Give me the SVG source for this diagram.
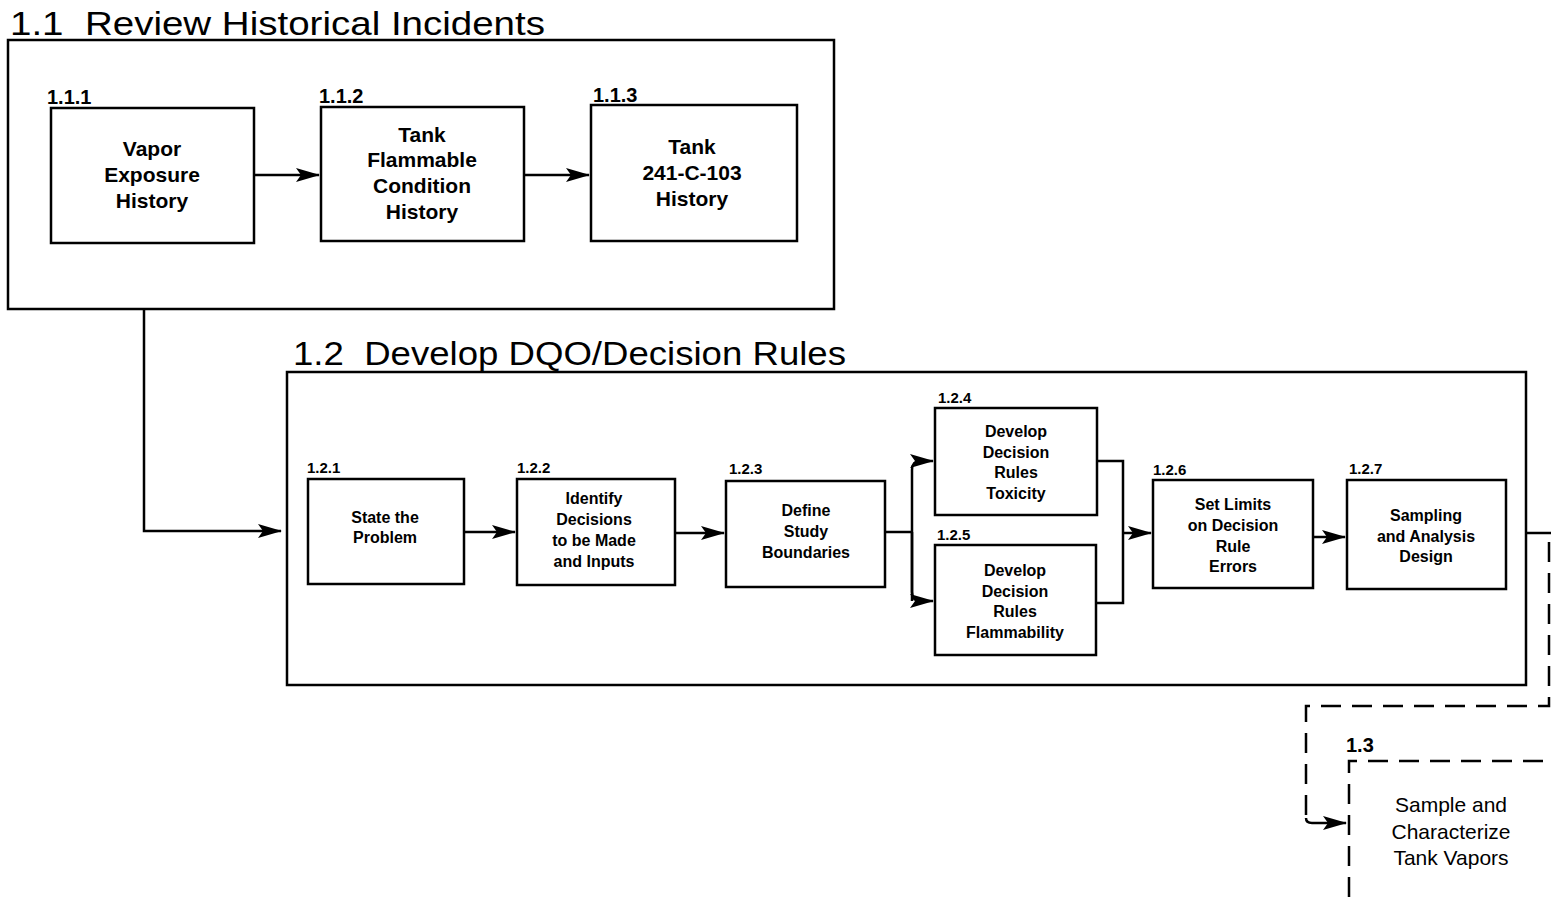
<svg xmlns="http://www.w3.org/2000/svg" width="1551" height="897" viewBox="0 0 1551 897">
<style>
.bg{fill:#fff}
.frame{fill:none;stroke:#000;stroke-width:2.5}
.box{fill:#fff;stroke:#000;stroke-width:2.5}
.dash{fill:none;stroke:#000;stroke-width:2.5;stroke-dasharray:20 11}
.title{font-family:"Liberation Sans",Arial,sans-serif;font-size:33px;fill:#000}
.num1{font-family:"Liberation Sans",Arial,sans-serif;font-size:20px;font-weight:bold;fill:#000}
.num2{font-family:"Liberation Sans",Arial,sans-serif;font-size:15px;font-weight:bold;fill:#000}
.t1{font-family:"Liberation Sans",Arial,sans-serif;font-size:21px;font-weight:bold;fill:#000;text-anchor:middle}
.t2{font-family:"Liberation Sans",Arial,sans-serif;font-size:16px;font-weight:bold;fill:#000;text-anchor:middle}
.t3{font-family:"Liberation Sans",Arial,sans-serif;font-size:21px;fill:#000;text-anchor:middle}
.line{fill:none;stroke:#000;stroke-width:2.5}
</style>
<defs>
<marker id="arr" viewBox="0 0 24 14" refX="23" refY="7" markerWidth="24" markerHeight="14" markerUnits="userSpaceOnUse" orient="auto">
<path d="M0,0 L24,7 L0,14 L5,7 Z" fill="#000"/>
</marker>
</defs>
<rect class="bg" x="0" y="0" width="1551" height="897"/>

<g id="group-1-1">
<text class="title" x="10" y="35" textLength="535" lengthAdjust="spacingAndGlyphs">1.1&#160; Review Historical Incidents</text>
<rect class="frame" x="8" y="40" width="826" height="269"/>
</g>

<g id="node-1-1-1">
<text class="num1" x="47" y="104">1.1.1</text>
<rect class="box" x="51" y="108" width="203" height="135"/>
<text class="t1" x="152" y="156">Vapor</text>
<text class="t1" x="152" y="182">Exposure</text>
<text class="t1" x="152" y="208">History</text>
</g>

<g id="node-1-1-2">
<text class="num1" x="319" y="103">1.1.2</text>
<rect class="box" x="321" y="107" width="203" height="134"/>
<text class="t1" x="422" y="142">Tank</text>
<text class="t1" x="422" y="167">Flammable</text>
<text class="t1" x="422" y="193">Condition</text>
<text class="t1" x="422" y="219">History</text>
</g>

<g id="node-1-1-3">
<text class="num1" x="593" y="102">1.1.3</text>
<rect class="box" x="591" y="105" width="206" height="136"/>
<text class="t1" x="692" y="154">Tank</text>
<text class="t1" x="692" y="180">241-C-103</text>
<text class="t1" x="692" y="206">History</text>
</g>

<g id="group-1-2">
<text class="title" x="293" y="365" textLength="553" lengthAdjust="spacingAndGlyphs">1.2&#160; Develop DQO/Decision Rules</text>
<rect class="frame" x="287" y="372" width="1239" height="313"/>
</g>

<g id="node-1-2-1">
<text class="num2" x="307" y="473">1.2.1</text>
<rect class="box" x="308" y="479" width="156" height="105"/>
<text class="t2" x="385" y="523">State the</text>
<text class="t2" x="385" y="543">Problem</text>
</g>

<g id="node-1-2-2">
<text class="num2" x="517" y="473">1.2.2</text>
<rect class="box" x="517" y="479" width="158" height="106"/>
<text class="t2" x="594" y="504">Identify</text>
<text class="t2" x="594" y="525">Decisions</text>
<text class="t2" x="594" y="546">to be Made</text>
<text class="t2" x="594" y="567">and Inputs</text>
</g>

<g id="node-1-2-3">
<text class="num2" x="729" y="474">1.2.3</text>
<rect class="box" x="726" y="481" width="159" height="106"/>
<text class="t2" x="806" y="516">Define</text>
<text class="t2" x="806" y="537">Study</text>
<text class="t2" x="806" y="558">Boundaries</text>
</g>

<g id="node-1-2-4">
<text class="num2" x="938" y="403">1.2.4</text>
<rect class="box" x="935" y="408" width="162" height="107"/>
<text class="t2" x="1016" y="437">Develop</text>
<text class="t2" x="1016" y="458">Decision</text>
<text class="t2" x="1016" y="478">Rules</text>
<text class="t2" x="1016" y="499">Toxicity</text>
</g>

<g id="node-1-2-5">
<text class="num2" x="937" y="540">1.2.5</text>
<rect class="box" x="935" y="545" width="161" height="110"/>
<text class="t2" x="1015" y="576">Develop</text>
<text class="t2" x="1015" y="597">Decision</text>
<text class="t2" x="1015" y="617">Rules</text>
<text class="t2" x="1015" y="638">Flammability</text>
</g>

<g id="node-1-2-6">
<text class="num2" x="1153" y="475">1.2.6</text>
<rect class="box" x="1153" y="480" width="160" height="108"/>
<text class="t2" x="1233" y="510">Set Limits</text>
<text class="t2" x="1233" y="531">on Decision</text>
<text class="t2" x="1233" y="552">Rule</text>
<text class="t2" x="1233" y="572">Errors</text>
</g>

<g id="node-1-2-7">
<text class="num2" x="1349" y="474">1.2.7</text>
<rect class="box" x="1347" y="480" width="159" height="109"/>
<text class="t2" x="1426" y="521">Sampling</text>
<text class="t2" x="1426" y="542">and Analysis</text>
<text class="t2" x="1426" y="562">Design</text>
</g>

<g id="node-1-3">
<text class="num1" x="1346" y="752">1.3</text>
<path class="dash" d="M1349,897 V761 H1560"/>
<text class="t3" x="1451" y="812">Sample and</text>
<text class="t3" x="1451" y="839">Characterize</text>
<text class="t3" x="1451" y="865">Tank Vapors</text>
</g>

<g id="connectors">
<path class="line" d="M254,175 H319" marker-end="url(#arr)"/>
<path class="line" d="M524,175 H589" marker-end="url(#arr)"/>
<path class="line" d="M144,309 V531 H281" marker-end="url(#arr)"/>
<path class="line" d="M464,532 H515" marker-end="url(#arr)"/>
<path class="line" d="M675,533 H724" marker-end="url(#arr)"/>
<path class="line" d="M885,532 H912"/>
<path class="line" d="M912,601 V470 Q912,461 921,461 H933" marker-end="url(#arr)"/>
<path class="line" d="M912,532 V592 Q912,601 921,601 H933" marker-end="url(#arr)"/>
<path class="line" d="M1097,461 H1123 V603 H1097"/>
<path class="line" d="M1123,533 H1151" marker-end="url(#arr)"/>
<path class="line" d="M1313,537 H1345" marker-end="url(#arr)"/>
<path class="line" d="M1526,533 H1551"/>
<path class="dash" d="M1549,542 V706 H1306 V818"/>
<path class="line" d="M1306,818 Q1306,823 1312,823 H1346" marker-end="url(#arr)"/>
</g>
</svg>
